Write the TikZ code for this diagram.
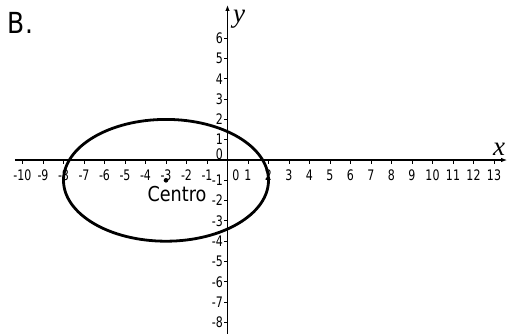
\documentclass[tikz,border=0pt]{standalone}
\usepackage{fontspec}
\setmainfont{DejaVu Sans}
\newfontfamily\tickfont[FakeStretch=0.76]{DejaVu Sans}
\newfontfamily\labfont[FakeStretch=0.86]{DejaVu Sans}
\newfontfamily\serifit{Liberation Serif}
\usetikzlibrary{arrows.meta}
\begin{document}
\begin{tikzpicture}[x=20.5pt,y=20.3pt,
  axisline/.style={line width=1.2pt,-{Latex[length=6pt,width=4.5pt]}},
  tickline/.style={line width=0.9pt},
  xlab/.style={inner sep=0pt,anchor=north,yshift=-10pt,font=\tickfont\fontsize{14.5}{16}\selectfont},
  ylab/.style={inner sep=0pt,anchor=east,xshift=-4.5pt,font=\tickfont\fontsize{14.5}{16}\selectfont},
  axlab/.style={inner sep=0pt,anchor=base,font=\serifit\itshape\fontsize{27}{29}\selectfont},
  curve/.style={line width=2.8pt}]
\useasboundingbox (-11.0976,7.882) rectangle (13.683,-8.571);
% axes
\coordinate (xs) at (-10.37,0);
\coordinate (xe) at (13.64,0);
\coordinate (ys) at (0,-8.62);
\coordinate (ye) at (0,7.64);
\draw[axisline] (xs) -- (xe);
\draw[axisline] (ys) -- (ye);
% x ticks and labels
\foreach \i in {-10,...,13}{
  \draw[tickline] (\i,0) -- ++(0,-4pt);
}
\foreach \i in {-10,...,-1,1,2,...,13}{
  \node[xlab] (xl\i) at (\i,0) {\i};
}
\node[xlab,xshift=8.5pt] (xl0) at (0,0) {0};
% y ticks and labels
\foreach \j in {-8,...,6}{
  \draw[tickline] (0,\j) -- ++(-4pt,0);
}
\foreach \j in {-8,...,-1,1,2,...,6}{
  \node[ylab] (yl\j) at (0,\j) {\j};
}
\node[ylab,yshift=6pt] (yl0) at (0,0) {0};
% axis names
\node[axlab] (xname) at (13.244,0.246) {x};
\node[axlab] (yname) at (0.561,6.75) {y};
% title
\node[inner sep=0pt,anchor=base west,font=\labfont\fontsize{29}{31}\selectfont] (title) at (-10.72,6.256) {B.};
% ellipse
\draw[curve] (-3,-1) ellipse [x radius=5, y radius=3];
% centre
\fill (-3,-1) circle [radius=2.3pt];
\node[inner sep=0pt,font=\labfont\fontsize{20.5}{22}\selectfont] (centro) at (-2.463,-1.69) {Centro};
\end{tikzpicture}
\end{document}
